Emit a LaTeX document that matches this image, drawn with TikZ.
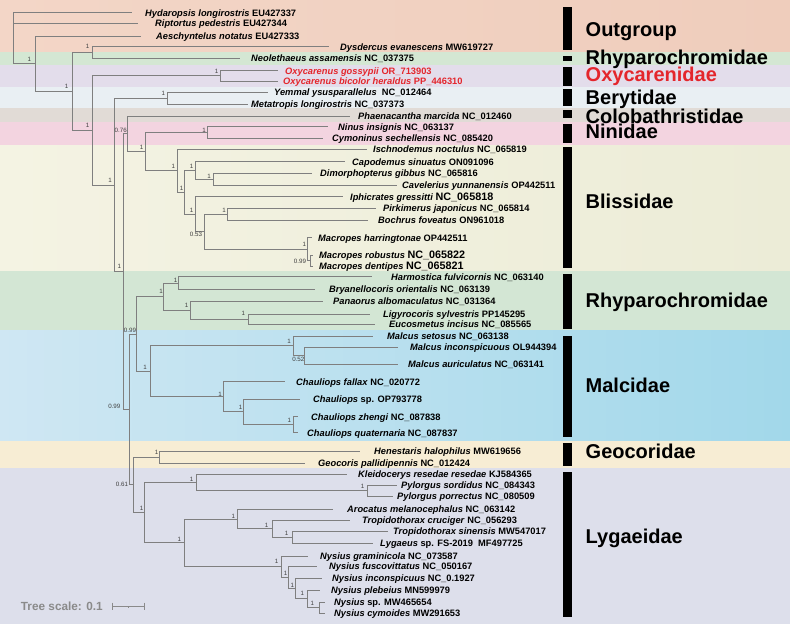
\documentclass[tikz,border=0pt]{standalone}
\usepackage{fontspec}
\setmainfont{Liberation Sans}
\definecolor{treegray}{HTML}{7F7F7F}
\definecolor{scalegray}{HTML}{8A8A8A}
\definecolor{oxyred}{HTML}{E4262C}
\definecolor{bOutL}{HTML}{F3D6C7}\definecolor{bOutR}{HTML}{EFCDBC}
\definecolor{bRhy}{HTML}{D4E7D3}
\definecolor{bOxy}{HTML}{E3DDEB}
\definecolor{bBer}{HTML}{E9EFF3}
\definecolor{bCol}{HTML}{E1DBD6}
\definecolor{bNin}{HTML}{F3D4E0}
\definecolor{bBliL}{HTML}{F4F3E3}\definecolor{bBliR}{HTML}{ECECD7}
\definecolor{bRhyB}{HTML}{D3E6D4}
\definecolor{bMalL}{HTML}{CFE7F3}\definecolor{bMalR}{HTML}{A2D8EA}
\definecolor{bGeo}{HTML}{F7EDD4}
\definecolor{bLyg}{HTML}{DDDFEB}
\newcommand{\leaffont}{\fontsize{9.3}{11}\selectfont\bfseries}
\newcommand{\supfont}{\fontsize{6.2}{7}\selectfont}
\newcommand{\famfont}{\fontsize{20}{22}\selectfont\bfseries}
\newcommand{\spn}[1]{\textit{#1}}
\newcommand{\acc}[1]{{\fontsize{10.8}{12}\selectfont #1}}
\newcommand{\kids}[2]{\foreach \c in {#2} {\draw[br] (#1) |- (\c);}}
\tikzset{
  br/.style={draw=treegray, line width=0.8pt},
  leaf/.style={anchor=west, inner sep=0pt, font=\leaffont, text height=6.7pt, text depth=0pt},
  sup/.style={inner sep=0pt, font=\supfont, text=black!75},
  fam/.style={anchor=west, inner sep=0pt, font=\famfont, text height=14.3pt, text depth=0pt},
  famb/.style={fill=black},
  sbar/.style={draw=scalegray, line width=0.9pt}
}
\begin{document}
\begin{tikzpicture}[x=1pt,y=-1pt]
\useasboundingbox (0,0) rectangle (790,624);
% ---- background bands
\shade[left color=bOutL, right color=bOutR] (0,0) rectangle (790,51.7);
\fill[bRhy] (0,51.7) rectangle (790,65);
\fill[bOxy] (0,65) rectangle (790,87.3);
\fill[bBer] (0,87.3) rectangle (790,108.3);
\fill[bCol] (0,108.3) rectangle (790,122);
\fill[bNin] (0,122) rectangle (790,145.7);
\shade[left color=bBliL, right color=bBliR] (0,145.7) rectangle (790,271);
\fill[bRhyB] (0,271) rectangle (790,330.7);
\shade[left color=bMalL, right color=bMalR] (0,330.7) rectangle (790,440.7);
\fill[bGeo] (0,440.7) rectangle (790,468.3);
\fill[bLyg] (0,468.3) rectangle (790,624);
% ---- family bars
\fill[famb] (563.3,6.7) rectangle (571.7,50);
\fill[famb] (563.3,56) rectangle (571.7,61);
\fill[famb] (563.3,66.7) rectangle (571.7,86);
\fill[famb] (563.3,89.3) rectangle (571.7,106);
\fill[famb] (563.3,110) rectangle (571.7,118.3);
\fill[famb] (563.3,124) rectangle (571.7,143.3);
\fill[famb] (563.3,147.3) rectangle (571.7,268.3);
\fill[famb] (563.3,274.3) rectangle (571.7,329);
\fill[famb] (563.3,335.7) rectangle (571.7,436.7);
\fill[famb] (563.3,442.7) rectangle (571.7,466);
\fill[famb] (563.3,472.3) rectangle (571.7,617.3);
% ---- family labels
\node[fam] (fOut) at (585.5,29.5) {Outgroup};
\node[fam] (fRhy) at (585.5,57.7) {Rhyparochromidae};
\node[fam, text=oxyred] (fOxy) at (585.5,74.7) {Oxycarenidae};
\node[fam] (fBer) at (585.5,97.3) {Berytidae};
\node[fam] (fCol) at (585.5,116.3) {Colobathristidae};
\node[fam] (fNin) at (585.5,131.7) {Ninidae};
\node[fam] (fBli) at (585.5,201.3) {Blissidae};
\node[fam] (fRhyB) at (585.5,300) {Rhyparochromidae};
\node[fam] (fMal) at (585.5,385) {Malcidae};
\node[fam] (fGeo) at (585.5,451.5) {Geocoridae};
\node[fam] (fLyg) at (585.5,536.7) {Lygaeidae};
% ---- leaves: tip coordinates and labels
\coordinate (hyd) at (132,12.7); \node[leaf] (hydL) at (145,12.7) {\spn{Hydaropsis longirostris} EU427337};
\coordinate (rip) at (138,23.3); \node[leaf] (ripL) at (155,23.3) {\spn{Riptortus pedestris} EU427344};
\coordinate (aes) at (141,36); \node[leaf] (aesL) at (156,36) {\spn{Aeschyntelus notatus} EU427333};
\coordinate (dys) at (329,46.7); \node[leaf] (dysL) at (340,46.7) {\spn{Dysdercus evanescens} MW619727};
\coordinate (neo) at (240,58.5); \node[leaf] (neoL) at (251,58.5) {\spn{Neolethaeus assamensis} NC\_037375};
\coordinate (oxg) at (278,70.7); \node[leaf, text=oxyred] (oxgL) at (285,70.7) {\spn{Oxycarenus gossypii} OR\_713903};
\coordinate (oxb) at (278,81); \node[leaf, text=oxyred] (oxbL) at (283,81) {\spn{Oxycarenus bicolor heraldus} PP\_446310};
\coordinate (yem) at (268,92.3); \node[leaf] (yemL) at (274,92.3) {\spn{Yemmal ysusparallelus}\ \ NC\_012464};
\coordinate (met) at (248,104); \node[leaf] (metL) at (251,104) {\spn{Metatropis longirostris} NC\_037373};
\coordinate (pha) at (350,116); \node[leaf] (phaL) at (358,116) {\spn{Phaenacantha marcida} NC\_012460};
\coordinate (nin) at (328,126.7); \node[leaf] (ninL) at (338,126.7) {\spn{Ninus insignis} NC\_063137};
\coordinate (cym) at (323,138); \node[leaf] (cymL) at (332,138) {\spn{Cymoninus sechellensis} NC\_085420};
\coordinate (isc) at (367,149.3); \node[leaf] (iscL) at (373,149.3) {\spn{Ischnodemus noctulus} NC\_065819};
\coordinate (cap) at (345,161.7); \node[leaf] (capL) at (352,161.7) {\spn{Capodemus sinuatus} ON091096};
\coordinate (dim) at (312,173.3); \node[leaf] (dimL) at (320,173.3) {\spn{Dimorphopterus gibbus} NC\_065816};
\coordinate (cav) at (397,185); \node[leaf] (cavL) at (402,185) {\spn{Cavelerius yunnanensis} OP442511};
\coordinate (iph) at (343,196.7); \node[leaf] (iphL) at (350,196.7) {\spn{Iphicrates gressitti} \acc{NC\_065818}};
\coordinate (pir) at (376,208.3); \node[leaf] (pirL) at (383,208.3) {\spn{Pirkimerus japonicus} NC\_065814};
\coordinate (boc) at (368,220); \node[leaf] (bocL) at (378,220) {\spn{Bochrus foveatus} ON961018};
\coordinate (mah) at (312,237.7); \node[leaf] (mahL) at (318,237.7) {\spn{Macropes harringtonae} OP442511};
\coordinate (mar) at (313,255); \node[leaf] (marL) at (319,255) {\spn{Macropes robustus} \acc{NC\_065822}};
\coordinate (mad) at (313,266); \node[leaf] (madL) at (319,266) {\spn{Macropes dentipes} \acc{NC\_065821}};
\coordinate (har) at (372,276.7); \node[leaf] (harL) at (391,276.7) {\spn{Harmostica fulvicornis} NC\_063140};
\coordinate (bry) at (315,289.3); \node[leaf] (bryL) at (329,289.3) {\spn{Bryanellocoris orientalis} NC\_063139};
\coordinate (pan) at (323,301); \node[leaf] (panL) at (333,301) {\spn{Panaorus albomaculatus} NC\_031364};
\coordinate (lig) at (370,314); \node[leaf] (ligL) at (383,314) {\spn{Ligyrocoris sylvestris} PP145295};
\coordinate (euc) at (375,324); \node[leaf] (eucL) at (389,324) {\spn{Eucosmetus incisus} NC\_085565};
\coordinate (mse) at (373,336); \node[leaf] (mseL) at (387,336) {\spn{Malcus setosus} NC\_063138};
\coordinate (min) at (398,347); \node[leaf] (minL) at (410,347) {\spn{Malcus inconspicuous} OL944394};
\coordinate (mau) at (398,364); \node[leaf] (mauL) at (408,364) {\spn{Malcus auriculatus} NC\_063141};
\coordinate (cfa) at (285,381.7); \node[leaf] (cfaL) at (296,381.7) {\spn{Chauliops fallax} NC\_020772};
\coordinate (csp) at (300,399); \node[leaf] (cspL) at (313,399) {\spn{Chauliops} sp. OP793778};
\coordinate (czh) at (298,416.7); \node[leaf] (czhL) at (311,416.7) {\spn{Chauliops zhengi} NC\_087838};
\coordinate (cqu) at (298,432.7); \node[leaf] (cquL) at (307,432.7) {\spn{Chauliops quaternaria} NC\_087837};
\coordinate (hen) at (360,451); \node[leaf] (henL) at (374,451) {\spn{Henestaris halophilus} MW619656};
\coordinate (geo) at (305,463.3); \node[leaf] (geoL) at (318,463.3) {\spn{Geocoris pallidipennis} NC\_012424};
\coordinate (kle) at (347,474); \node[leaf] (kleL) at (358,474) {\spn{Kleidocerys resedae resedae} KJ584365};
\coordinate (pys) at (397,485); \node[leaf] (pysL) at (401,485) {\spn{Pylorgus sordidus} NC\_084343};
\coordinate (pyp) at (393,496); \node[leaf] (pypL) at (397,496) {\spn{Pylorgus porrectus} NC\_080509};
\coordinate (aro) at (333,509.3); \node[leaf] (aroL) at (347,509.3) {\spn{Arocatus melanocephalus} NC\_063142};
\coordinate (trc) at (350,520); \node[leaf] (trcL) at (362,520) {\spn{Tropidothorax cruciger} NC\_056293};
\coordinate (trs) at (388,531); \node[leaf] (trsL) at (393,531) {\spn{Tropidothorax sinensis} MW547017};
\coordinate (lyg) at (373,543); \node[leaf] (lygL) at (380,543) {\spn{Lygaeus} sp. FS-2019\ \ MF497725};
\coordinate (nyg) at (308,556); \node[leaf] (nygL) at (320,556) {\spn{Nysius graminicola} NC\_073587};
\coordinate (nyf) at (317,566); \node[leaf] (nyfL) at (329,566) {\spn{Nysius fuscovittatus} NC\_050167};
\coordinate (nyi) at (322,578); \node[leaf] (nyiL) at (332,578) {\spn{Nysius inconspicuus} NC\_0.1927};
\coordinate (nyp) at (320,590); \node[leaf] (nypL) at (331,590) {\spn{Nysius plebeius} MN599979};
\coordinate (nys) at (325,602); \node[leaf] (nysL) at (334,602) {\spn{Nysius} sp. MW465654};
\coordinate (nyc) at (325,613); \node[leaf] (nycL) at (334,613) {\spn{Nysius cymoides} MW291653};
% ---- internal nodes
\coordinate (root) at (13,38);
\coordinate (nA) at (35,63.75);
\coordinate (nB) at (72,91.5);
\coordinate (nC) at (92,52.6);
\coordinate (nD) at (92,130.4);
\coordinate (nE) at (220,75.85);
\coordinate (nF) at (114,184.9);
\coordinate (nG) at (167,98.15);
\coordinate (nI) at (123,271.6);
\coordinate (nH) at (127.5,133.8);
\coordinate (nK) at (145,151.6);
\coordinate (nL) at (207,132.35);
\coordinate (nM) at (177,170.8);
\coordinate (nN) at (184,192.3);
\coordinate (nO) at (195,170.4);
\coordinate (nP) at (213,179.15);
\coordinate (nQ) at (195,214.15);
\coordinate (nR) at (204,231.6);
\coordinate (nS) at (227,214.15);
\coordinate (nT) at (307,249.1);
\coordinate (nU) at (310,260.5);
\coordinate (nJ) at (129,409.35);
\coordinate (nV) at (136,333.9);
\coordinate (nW) at (163,296.5);
\coordinate (nY) at (178,283);
\coordinate (nZ) at (190,310);
\coordinate (nAA) at (248,319);
\coordinate (nX) at (150,371.3);
\coordinate (nBB) at (293,345.75);
\coordinate (nCC) at (304,355.5);
\coordinate (nDD) at (223,396.8);
\coordinate (nEE) at (243,411.85);
\coordinate (nFF) at (293,424.7);
\coordinate (nGG) at (133,484.8);
\coordinate (nHH) at (159,457.15);
\coordinate (nII) at (144,512.5);
\coordinate (nJJ) at (196,482.25);
\coordinate (nKK) at (367,490.5);
\coordinate (nLL) at (184,542.75);
\coordinate (nMM) at (237,518.9);
\coordinate (nNN) at (272,528.5);
\coordinate (nOO) at (292,537);
\coordinate (nPP) at (281,566.6);
\coordinate (nQQ) at (288,577.2);
\coordinate (nRR) at (295,588.4);
\coordinate (nSS) at (307,598.75);
\coordinate (nTT) at (319,607.5);
% ---- branches
\kids{root}{hyd,rip,nA}
\kids{nA}{aes,nB}
\kids{nB}{nC,nD}
\kids{nC}{dys,neo}
\kids{nD}{nE,nF}
\kids{nE}{oxg,oxb}
\kids{nF}{nG,nI}
\kids{nG}{yem,met}
\kids{nI}{nH,nJ}
\kids{nH}{pha,nK}
\kids{nK}{nL,nM}
\kids{nL}{nin,cym}
\kids{nM}{isc,nN}
\kids{nN}{nO,nQ}
\kids{nO}{cap,nP}
\kids{nP}{dim,cav}
\kids{nQ}{iph,nR}
\kids{nR}{nS,nT}
\kids{nS}{pir,boc}
\kids{nT}{mah,nU}
\kids{nU}{mar,mad}
\kids{nJ}{nV,nGG}
\kids{nV}{nW,nX}
\kids{nW}{nY,nZ}
\kids{nY}{har,bry}
\kids{nZ}{pan,nAA}
\kids{nAA}{lig,euc}
\kids{nX}{nBB,nDD}
\kids{nBB}{mse,nCC}
\kids{nCC}{min,mau}
\kids{nDD}{cfa,nEE}
\kids{nEE}{csp,nFF}
\kids{nFF}{czh,cqu}
\kids{nGG}{nHH,nII}
\kids{nHH}{hen,geo}
\kids{nII}{nJJ,nLL}
\kids{nJJ}{kle,nKK}
\kids{nKK}{pys,pyp}
\kids{nLL}{nMM,nPP}
\kids{nMM}{aro,nNN}
\kids{nNN}{trc,nOO}
\kids{nOO}{trs,lyg}
\kids{nPP}{nyg,nQQ}
\kids{nQQ}{nyf,nRR}
\kids{nRR}{nyi,nSS}
\kids{nSS}{nyp,nTT}
\kids{nTT}{nys,nyc}
% ---- support values
\node[sup] (sA) at (29.3,59) {1};
\node[sup] (sB) at (66.7,86.7) {1};
\node[sup] (sC) at (87.7,46.7) {1};
\node[sup] (sD) at (87.7,125) {1};
\node[sup] (sE) at (216.7,71.7) {1};
\node[sup] (sF) at (110,180) {1};
\node[sup] (sG) at (163.3,93.3) {1};
\node[sup] (sH) at (120.7,130) {0.76};
\node[sup] (sI) at (119.3,266.7) {1};
\node[sup] (sK) at (141.7,147.3) {1};
\node[sup] (sL) at (204,130) {1};
\node[sup] (sM) at (173.3,166.7) {1};
\node[sup] (sN) at (181.7,188.3) {1};
\node[sup] (sO) at (191.7,166.7) {1};
\node[sup] (sP) at (209,176) {1};
\node[sup] (sQ) at (191.7,210.7) {1};
\node[sup] (sR) at (196,234.3) {0.53};
\node[sup] (sS) at (224,210.7) {1};
\node[sup] (sT) at (304.3,244.3) {1};
\node[sup] (sU) at (300,261.7) {0.99};
\node[sup] (sJ) at (114.3,406.7) {0.99};
\node[sup] (sV) at (130,330.7) {0.99};
\node[sup] (sW) at (161,291.7) {1};
\node[sup] (sY) at (175.7,280) {1};
\node[sup] (sZ) at (186.7,305) {1};
\node[sup] (sAA) at (243.3,313.3) {1};
\node[sup] (sX) at (145,367.3) {1};
\node[sup] (sBB) at (289,341) {1};
\node[sup] (sCC) at (298.3,359.3) {0.52};
\node[sup] (sDD) at (220,394.3) {1};
\node[sup] (sEE) at (240.7,407.3) {1};
\node[sup] (sFF) at (289.3,420.7) {1};
\node[sup] (sGG) at (122,484) {0.61};
\node[sup] (sHH) at (156.7,452.7) {1};
\node[sup] (sII) at (141.7,508.3) {1};
\node[sup] (sJJ) at (191.7,479) {1};
\node[sup] (sKK) at (362.7,486.7) {1};
\node[sup] (sLL) at (179.3,539) {1};
\node[sup] (sMM) at (233.3,516.7) {1};
\node[sup] (sNN) at (266.7,525) {1};
\node[sup] (sOO) at (286.7,533.3) {1};
\node[sup] (sPP) at (276.7,561.7) {1};
\node[sup] (sQQ) at (285.7,573.3) {1};
\node[sup] (sRR) at (292.3,585) {1};
\node[sup] (sSS) at (302.3,593.3) {1};
\node[sup] (sTT) at (312.3,603.3) {1};
% ---- tree scale
\node[anchor=west, inner sep=0pt, font=\fontsize{11.8}{13}\selectfont\bfseries, text=scalegray, text height=8.5pt, text depth=0pt] (tscale) at (20.7,606) {Tree scale: 0.1};
\coordinate (sb1) at (112,606);
\coordinate (sb2) at (144,606);
\coordinate (sbm) at (128,606);
\draw[sbar] (sb1) -- (sb2);
\draw[sbar] (sb1) ++(0,-3.5) -- ++(0,7);
\draw[sbar] (sb2) ++(0,-3.5) -- ++(0,7);
\draw[sbar, line width=0.6pt] (sbm) -- ++(0,1.5);
\end{tikzpicture}
\end{document}
